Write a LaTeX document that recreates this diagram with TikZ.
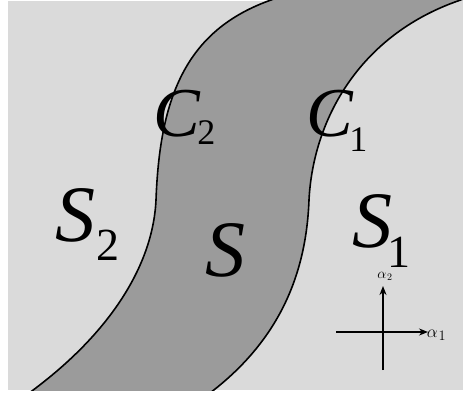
\documentclass[tikz,border=0pt]{standalone}
\usepackage{fontspec}
\setmainfont{Liberation Serif}
\usepackage{tikz}
\usetikzlibrary{arrows.meta}
\definecolor{fondo}{RGB}{218,218,218}
\definecolor{banda}{RGB}{155,155,155}

\begin{document}
\begin{tikzpicture}[x=1pt, y=-1pt, >={Stealth[length=9pt,width=7pt]}, line width=1.6pt,
    letra/.style={inner sep=0pt, anchor=base west, font=\fontsize{80}{80}\selectfont\itshape},
    letrac/.style={inner sep=0pt, anchor=base west, font=\fontsize{70}{70}\selectfont\itshape}]
    \useasboundingbox (0,0) rectangle (463,393);
    % fondo claro
    \fill[fondo] (8,1) rectangle (463,390);
    \begin{scope}
        \clip (8,1) rectangle (463,390);
        % banda S entre las curvas C2 y C1
        \fill[banda] (25,396) .. controls (110,335) and (153,265) .. (156,200)
            .. controls (160,90) and (190,25) .. (280,-3)
            -- (470,-3) .. controls (360,30) and (313,120) .. (309,200)
            .. controls (306,280) and (275,345) .. (206,396) -- cycle;
        % curva C2
        \draw (25,396) .. controls (110,335) and (153,265) .. (156,200)
            .. controls (160,90) and (190,25) .. (280,-3);
        % curva C1
        \draw (206,396) .. controls (275,345) and (306,280) .. (309,200)
            .. controls (313,120) and (360,30) .. (470,-3);
    \end{scope}
    % etiquetas de las regiones y de las curvas
    \node[letra] (s2) at (55,241) {S\kern1pt\raisebox{-19pt}{\fontsize{46}{46}\selectfont\upshape 2}};
    \node[letra] (s) at (205,276) {S};
    \node[letra] (s1) at (352,247) {S\kern-5pt\raisebox{-20pt}{\fontsize{46}{46}\selectfont\upshape 1}};
    \node[letrac] (c2) at (153,137) {C\kern-3pt\raisebox{-8pt}{\fontsize{36}{36}\selectfont\upshape 2}};
    \node[letrac] (c1) at (306,137) {C\kern-4pt\raisebox{-15pt}{\fontsize{36}{36}\selectfont\upshape 1}};
    % ejes alpha1, alpha2
    \coordinate (ex0) at (336,332);
    \coordinate (ex1) at (428,332);
    \coordinate (ey0) at (383,370);
    \coordinate (ey1) at (383,286);
    \draw[->] (ex0) -- (ex1);
    \draw[->] (ey0) -- (ey1);
    \node[inner sep=0pt, anchor=base west, font=\fontsize{19}{19}\selectfont] (a1) at (426,337) {$\alpha_{\kern1pt1}$};
    \node[inner sep=0pt, anchor=base, font=\fontsize{14}{14}\selectfont] (a2) at (385,278) {$\alpha_{\kern1pt2}$};
\end{tikzpicture}
\end{document}
